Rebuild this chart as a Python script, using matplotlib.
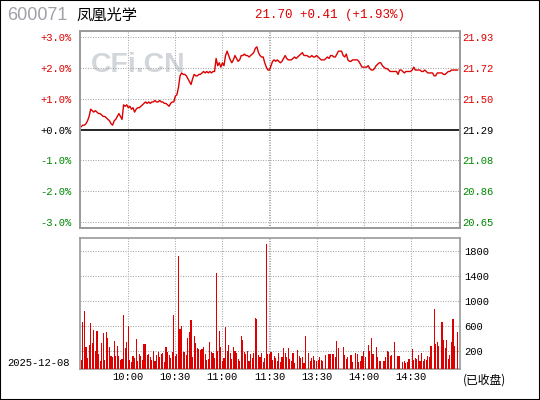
import numpy as np
import matplotlib
matplotlib.use("Agg")
import matplotlib.pyplot as plt
from matplotlib.patches import Rectangle

# ── data ──────────────────────────────────────────────────────
CODE = "600071"
NAME = "凤凰光学"
DATE = "2025-12-08"
PREV_CLOSE = 21.29
LAST, CHANGE, CHANGE_PCT = 21.70, 0.41, 1.93

# one price per minute, 09:30 … 11:30 | 13:01 … 15:00
PRICES = [
    21.31, 21.32, 21.32, 21.33, 21.35, 21.38, 21.43, 21.42, 21.41, 21.42,
    21.41, 21.40, 21.40, 21.39, 21.38, 21.38, 21.37, 21.36, 21.35, 21.33,
    21.32, 21.35, 21.36, 21.38, 21.40, 21.38, 21.36, 21.46, 21.45, 21.46,
    21.44, 21.45, 21.43, 21.44, 21.41, 21.43, 21.44, 21.44, 21.45, 21.46,
    21.47, 21.48, 21.47, 21.48, 21.47, 21.48, 21.48, 21.49, 21.48, 21.48,
    21.49, 21.48, 21.48, 21.47, 21.47, 21.46, 21.45, 21.47, 21.48, 21.48,
    21.52, 21.53, 21.58, 21.66, 21.68, 21.67, 21.67, 21.66, 21.64, 21.62,
    21.60, 21.64, 21.67, 21.66, 21.66, 21.67, 21.67, 21.68, 21.69, 21.68,
    21.69, 21.68, 21.69, 21.68, 21.69, 21.69, 21.78, 21.73, 21.75, 21.72,
    21.75, 21.73, 21.80, 21.83, 21.80, 21.77, 21.75, 21.77, 21.80, 21.78,
    21.76, 21.77, 21.80, 21.80, 21.81, 21.80, 21.80, 21.79, 21.80, 21.81,
    21.82, 21.85, 21.86, 21.82, 21.80, 21.79, 21.79, 21.75, 21.72, 21.70,
    21.70, 21.73, 21.76, 21.77, 21.76, 21.77, 21.76, 21.75, 21.76, 21.78,
    21.80, 21.78, 21.77, 21.77, 21.77, 21.78, 21.79, 21.78, 21.79, 21.80,
    21.81, 21.82, 21.80, 21.80, 21.80, 21.79, 21.79, 21.80, 21.79, 21.79,
    21.80, 21.79, 21.78, 21.77, 21.77, 21.77, 21.78, 21.79, 21.78, 21.80,
    21.80, 21.79, 21.79, 21.81, 21.83, 21.83, 21.83, 21.80, 21.79, 21.81,
    21.77, 21.76, 21.76, 21.77, 21.77, 21.77, 21.77, 21.76, 21.74, 21.72,
    21.72, 21.72, 21.72, 21.73, 21.71, 21.70, 21.70, 21.71, 21.73, 21.74,
    21.75, 21.75, 21.73, 21.72, 21.71, 21.71, 21.70, 21.69, 21.69, 21.69,
    21.69, 21.69, 21.67, 21.70, 21.70, 21.69, 21.68, 21.69, 21.69, 21.69,
    21.69, 21.70, 21.72, 21.70, 21.70, 21.70, 21.70, 21.69, 21.69, 21.70,
    21.69, 21.68, 21.68, 21.68, 21.68, 21.66, 21.66, 21.68, 21.68, 21.68,
    21.68, 21.67, 21.67, 21.68, 21.69, 21.69, 21.70, 21.70, 21.70, 21.70,
    21.70,
]

VOLUMES = [
    61, 669, 845, 269, 93, 301, 653, 333, 541, 205,
    525, 157, 45, 333, 493, 61, 509, 413, 269, 125,
    109, 365, 125, 285, 125, 61, 77, 781, 253, 349,
    605, 61, 29, 125, 93, 397, 45, 157, 125, 61,
    317, 317, 141, 157, 109, 61, 205, 45, 141, 189,
    109, 157, 173, 29, 269, 189, 141, 93, 189, 781,
    125, 157, 1725, 557, 605, 189, 189, 141, 413, 509,
    701, 109, 445, 333, 253, 237, 221, 237, 269, 157,
    61, 77, 349, 189, 173, 93, 1453, 205, 525, 269,
    45, 93, 589, 205, 301, 173, 77, 269, 205, 173,
    77, 45, 445, 381, 189, 157, 205, 45, 157, 93,
    173, 733, 717, 141, 109, 173, 29, 93, 1917, 157,
    157, 189, 61, 125, 93, 45, 173, 29, 109, 253,
    173, 109, 253, 77, 45, 173, 13, 0, 221, 125,
    93, 109, 13, 445, 0, 173, 45, 93, 125, 61,
    45, 61, 109, 61, 45, 0, 141, 0, 157, 157,
    157, 157, 109, 365, 253, 0, 0, 269, 141, 77,
    109, 0, 141, 29, 0, 173, 157, 29, 45, 125,
    205, 109, 0, 301, 205, 413, 157, 0, 269, 109,
    45, 45, 0, 45, 109, 205, 189, 125, 141, 0,
    349, 0, 125, 125, 0, 29, 45, 13, 29, 77,
    0, 237, 61, 93, 77, 141, 45, 173, 45, 77,
    61, 125, 109, 285, 0, 877, 317, 349, 285, 0,
    669, 381, 253, 381, 77, 141, 349, 717, 285, 0,
    509,
]

PCT_LEVELS = [3, 2, 1, 0, -1, -2, -3]
VOL_TICKS = [200, 600, 1000, 1400, 1800]
TIME_POS = [30, 60, 90, 120, 150, 180, 210]
TIME_LABELS = ["10:00", "10:30", "11:00", "11:30", "13:30", "14:00", "14:30"]

# ── styling ──────────────────────────────────────────────────
RED = "#dd0000"
GREEN = "#008800"
GRID = "#a8a8a8"
SPINE = "#999999"
MONO = "Liberation Mono"
CJK = ["Noto Sans CJK SC", "DejaVu Sans"]
VOL_FLOOR, VOL_TOP = -85, 2013
W, H = 540, 400


def fx(px):
    return px / W


def fy(py):
    return 1 - py / H


def dotted(ax, horiz, pos):
    kw = dict(color=GRID, lw=0.75, ls=(0, (1, 1.4)), zorder=1)
    if horiz:
        ax.axhline(pos, **kw)
    else:
        ax.axvline(pos, **kw)


def style_spines(ax):
    for s in ax.spines.values():
        s.set_color(SPINE)
        s.set_linewidth(1.2)


fig = plt.figure(figsize=(W / 100, H / 100), dpi=100)
ax_p = fig.add_axes([fx(80), fy(228), 380 / W, (228 - 31) / H])
ax_v = fig.add_axes([fx(80), fy(369), 380 / W, (369 - 238) / H])

x = np.arange(len(PRICES))
vgrid = [30, 60, 90, 119.4, 120.6, 150, 180, 210]

# ── price panel ──────────────────────────────────────────────
ax_p.set_xlim(-0.8, 241.5)
ax_p.set_ylim(PREV_CLOSE * (1 - 0.0319), PREV_CLOSE * (1 + 0.0319))
levels = [PREV_CLOSE * (1 + k / 100) for k in PCT_LEVELS]
for k, lv in zip(PCT_LEVELS, levels):
    if k == 0:
        ax_p.axhline(lv, color="black", lw=1.2, zorder=2)
    else:
        dotted(ax_p, True, lv)
for t in vgrid:
    dotted(ax_p, False, t)
ax_p.plot(x, PRICES, color=RED, lw=1.0, zorder=3)

ax_p.text(fx(138), fy(65), "CFi.CN", transform=fig.transFigure,
          ha="center", va="center", fontsize=20.5, fontweight="bold",
          family="Liberation Sans", color="#d2d5da", zorder=0)

ax_p.set_xticks([])
ax_p.set_yticks(levels)
ax_p.set_yticklabels([f"{k:+.1f}%" for k in PCT_LEVELS], family=MONO, fontsize=7.6)
ax_p.tick_params(axis="y", length=0, pad=6)
ax_r = ax_p.twinx()
ax_r.set_ylim(ax_p.get_ylim())
ax_r.set_yticks(levels)
ax_r.set_yticklabels([f"{lv:.2f}" for lv in levels], family=MONO, fontsize=7.6)
ax_r.tick_params(axis="y", length=0, pad=1.5)
for k, a, b in zip(PCT_LEVELS, ax_p.get_yticklabels(), ax_r.get_yticklabels()):
    c = RED if k > 0 else ("black" if k == 0 else GREEN)
    a.set_color(c)
    b.set_color(c)
style_spines(ax_p)
style_spines(ax_r)

# ── volume panel ─────────────────────────────────────────────
vol = np.array(VOLUMES, dtype=float)
heights = np.where(vol > 0, vol - VOL_FLOOR, 0)
ax_v.set_xlim(-0.8, 241.5)
ax_v.set_ylim(VOL_FLOOR, VOL_TOP)
for v in VOL_TICKS:
    dotted(ax_v, True, v)
for t in vgrid:
    dotted(ax_v, False, t)
ax_v.bar(x, heights, bottom=VOL_FLOOR, width=0.72, color=RED,
         linewidth=0, antialiased=False, zorder=3)
ax_v.yaxis.tick_right()
ax_v.set_yticks(VOL_TICKS)
ax_v.set_yticklabels([str(v) for v in VOL_TICKS], family=MONO, fontsize=7.6)
ax_v.set_xticks(TIME_POS)
ax_v.set_xticklabels(TIME_LABELS, family=MONO, fontsize=7.6)
ax_v.tick_params(length=0)
ax_v.tick_params(axis="y", pad=3)
ax_v.tick_params(axis="x", pad=2.5)
style_spines(ax_v)

# ── header & captions ────────────────────────────────────────
fig.text(fx(7), fy(15), CODE, ha="left", va="center", fontsize=13,
         family="Liberation Sans", color="#a0a0a8")
fig.text(fx(76), fy(15), NAME, ha="left", va="center", fontsize=11,
         family=CJK, color="black")
fig.text(fx(255), fy(15), f"{LAST:.2f} {CHANGE:+.2f} ({CHANGE_PCT:+.2f}%)",
         ha="left", va="center", fontsize=9, family=MONO, color=RED)
fig.text(fx(7), fy(363), DATE, ha="left", va="center", fontsize=7.6,
         family=MONO, color="black")
fig.text(fx(463), fy(380), "(已收盘)", ha="left", va="center", fontsize=8.5,
         family=CJK, color="black")

fig.add_artist(Rectangle((0, 0), 1, 1, transform=fig.transFigure,
                         fill=False, ec="black", lw=1.5))

fig.savefig("out.png", dpi=100)
